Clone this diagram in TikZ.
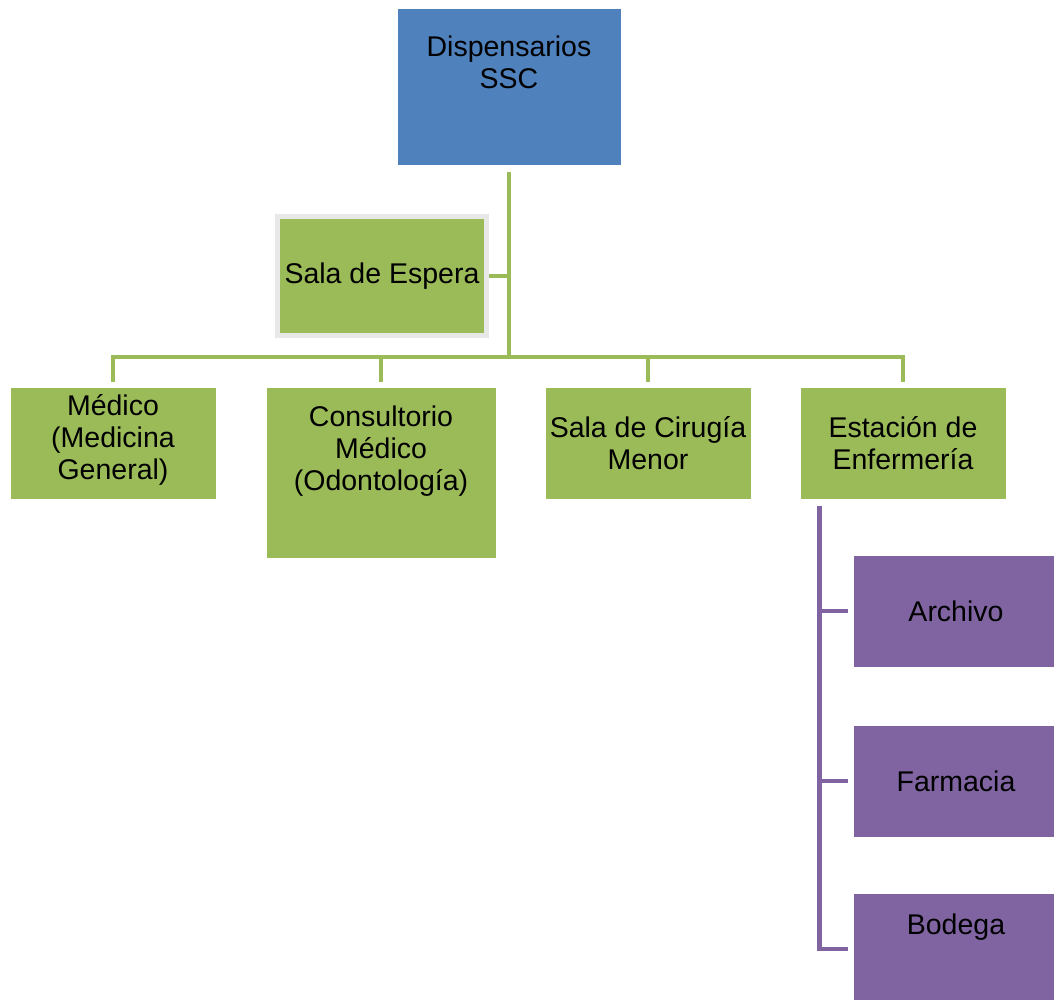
\documentclass[tikz,border=0pt]{standalone}
\usepackage{fontspec}
\setmainfont{Liberation Sans}
\usetikzlibrary{positioning,calc}
\definecolor{BoxBlue}{RGB}{79,129,189}
\definecolor{BoxGreen}{RGB}{155,187,89}
\definecolor{BoxPurple}{RGB}{128,100,162}
\definecolor{FrameGray}{RGB}{232,232,232}
\tikzset{
  unit/.style={rectangle,draw=white,line width=0.6pt,minimum width=206pt,minimum height=112pt,align=center,inner sep=0pt,font=\fontsize{28.5}{32}\selectfont},
  topunit/.style={unit,fill=BoxBlue,minimum width=224pt,minimum height=157pt},
  greenunit/.style={unit,fill=BoxGreen},
  purpleunit/.style={unit,fill=BoxPurple},
  gline/.style={draw=BoxGreen,line width=4.5pt},
  pline/.style={draw=BoxPurple,line width=4.5pt}
}
\begin{document}
\begin{tikzpicture}[x=1pt,y=-1pt]
\useasboundingbox (0,0) rectangle (1054,999);
\node[topunit,text depth=49pt] (disp) at (509,86.5) {Dispensarios\\SSC};
\node[greenunit,draw=FrameGray,line width=4.5pt,minimum width=209pt,minimum height=119pt] (espera) at (382,276) {Sala de Espera};
\node[greenunit,text depth=12pt] (med) at (113,443) {Médico\\(Medicina\\General)};
\node[greenunit,minimum width=230pt,minimum height=171pt,text depth=49pt] (cons) at (381,472.5) {Consultorio\\Médico\\(Odontología)};
\node[greenunit] (cir) at (648,443) {Sala de Cirugía\\Menor};
\node[greenunit] (est) at (903,443) {Estación de\\Enfermería};
\node[purpleunit] (arch) at (956,611) {Archivo};
\node[purpleunit] (farm) at (956,781) {Farmacia};
\node[purpleunit,text depth=50pt] (bod) at (956,949) {Bodega};
\coordinate (bus) at (510,357);
\coordinate (spine) at ([xshift=20pt,yshift=-7pt]est.south west);
% green tree
\draw[gline] ([yshift=-7pt]disp.south) -- (disp.south |- bus);
\draw[gline] (espera.east) -- (espera.east -| disp.south);
\draw[gline] ([yshift=5pt]med.north) |- (est.north |- bus) -- ([yshift=5pt]est.north);
\draw[gline] ([yshift=5pt]cons.north) -- (cons.north |- bus);
\draw[gline] ([yshift=5pt]cir.north) -- (cir.north |- bus);
% purple tree
\draw[pline] (spine) |- ([xshift=-5pt]bod.west);
\draw[pline] (spine |- arch.west) -- ([xshift=-5pt]arch.west);
\draw[pline] (spine |- farm.west) -- ([xshift=-5pt]farm.west);
\end{tikzpicture}
\end{document}
